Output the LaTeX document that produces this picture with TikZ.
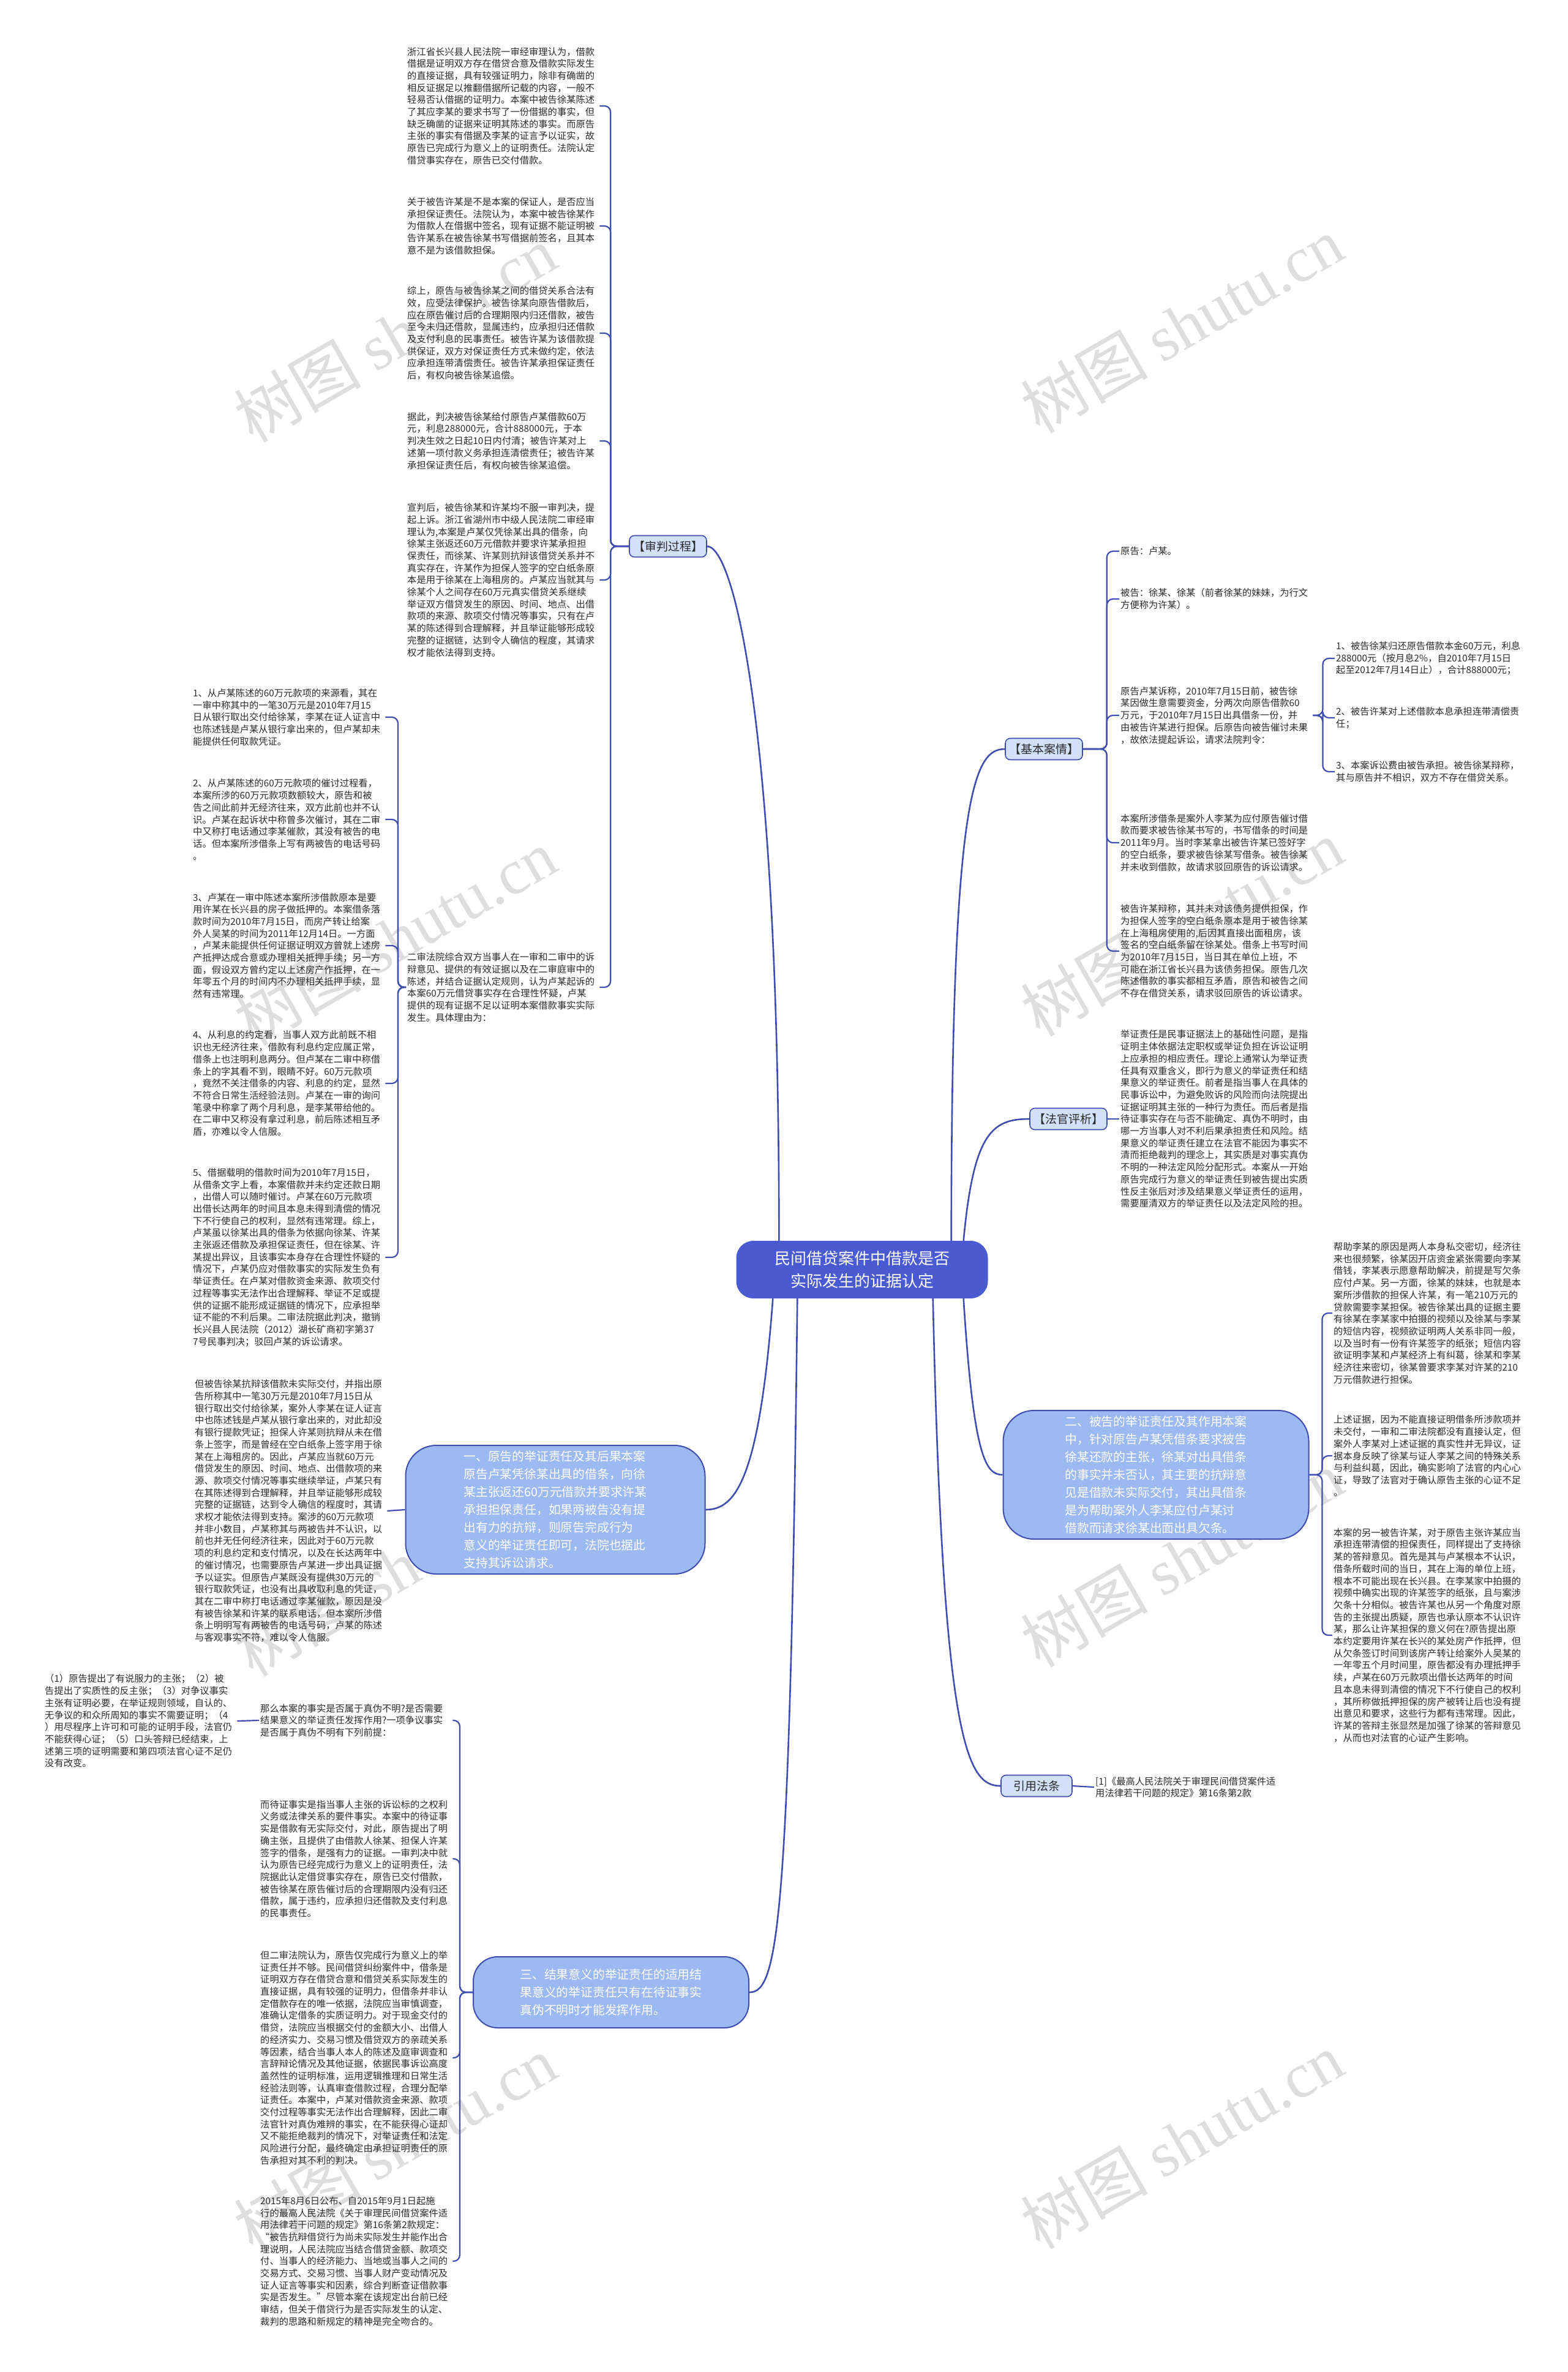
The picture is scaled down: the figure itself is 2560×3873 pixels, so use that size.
\documentclass[tikz,border=0pt]{standalone}
\usepackage{fontspec}
\setmainfont{Noto Sans CJK SC}
\newfontfamily\wmlatin{Liberation Serif}
\definecolor{lineblue}{HTML}{3F4CB0}
\definecolor{rootblue}{HTML}{4A5AD0}
\definecolor{bubfill}{HTML}{9DB9F2}
\definecolor{brfill}{HTML}{D3E0FA}
\definecolor{textgray}{HTML}{2B2B2B}
\tikzset{
  txt/.style={anchor=west, align=left, text width=312pt, inner sep=2pt, font=\fontsize{15.3}{19.7}\selectfont, text=textgray},
  conn/.style={draw=lineblue, line width=2.2pt, rounded corners=10pt},
  mainconn/.style={draw=lineblue, line width=2.6pt},
  bub/.style={draw=lineblue, line width=2pt, fill=bubfill, rounded corners=50pt, align=left, text=white, font=\fontsize{19.8}{29}\selectfont},
  brn/.style={draw=lineblue, line width=1.6pt, fill=brfill, rounded corners=8pt, font=\fontsize{19}{22}\selectfont, text=textgray, minimum height=35pt, inner xsep=6pt},
  wm/.style={text=black!13, font=\fontsize{104}{104}\selectfont, rotate=30}
}
\begin{document}
\begin{tikzpicture}[x=1pt,y=-1pt]
\useasboundingbox (0,0) rectangle (2560,3873);
\fill[white] (0,0) rectangle (2560,3873);
% watermarks
\node[wm] (w1) at (645,545) {树图 {\wmlatin shutu.cn}};
\node[wm] (w2) at (1930,530) {树图 {\wmlatin shutu.cn}};
\node[wm] (w3) at (645,1530) {树图 {\wmlatin shutu.cn}};
\node[wm] (w4) at (1930,1515) {树图 {\wmlatin shutu.cn}};
\node[wm] (w5) at (645,2560) {树图 {\wmlatin shutu.cn}};
\node[wm] (w6) at (1930,2545) {树图 {\wmlatin shutu.cn}};
\node[wm] (w7) at (645,3500) {树图 {\wmlatin shutu.cn}};
\node[wm] (w8) at (1930,3495) {树图 {\wmlatin shutu.cn}};

% root
\node[fill=rootblue, rounded corners=28pt, minimum width=411pt, minimum height=94pt, align=center, text=white, font=\fontsize{26}{37}\selectfont] (root) at (1408,2073) {民间借贷案件中借款是否\\实际发生的证据认定};

% branches
\node[brn] (jp) at (1091,892) {【审判过程】};
\node[brn] (jb) at (1705,1223) {【基本案情】};
\node[brn] (fg) at (1745,1827) {【法官评析】};
\node[brn, inner xsep=20pt] (yy) at (1693,2916) {引用法条};
\node[bub, minimum width=489pt, minimum height=210pt] (b1) at (907,2465) {一、原告的举证责任及其后果本案\\原告卢某凭徐某出具的借条，向徐\\某主张返还60万元借款并要求许某\\承担担保责任，如果两被告没有提\\出有力的抗辩，则原告完成行为\\意义的举证责任即可，法院也据此\\支持其诉讼请求。};
\node[bub, minimum width=499pt, minimum height=210pt] (b2) at (1888,2408) {二、被告的举证责任及其作用本案\\中，针对原告卢某凭借条要求被告\\徐某还款的主张，徐某对出具借条\\的事实并未否认，其主要的抗辩意\\见是借款未实际交付，其出具借条\\是为帮助案外人李某应付卢某讨\\借款而请求徐某出面出具欠条。};
\node[bub, minimum width=450pt, minimum height=116pt, rounded corners=40pt] (b3) at (998,3253) {三、结果意义的举证责任的适用结\\果意义的举证责任只有在待证事实\\真伪不明时才能发挥作用。};

% main connectors
\draw[mainconn] ([xshift=70pt]root.north west) .. controls (1273,1200) and (1200,892) .. (jp.east);
\draw[mainconn] ([xshift=-60pt]root.north east) .. controls (1554,1300) and (1590,1223) .. (jb.west);
\draw[mainconn] ([xshift=-40pt]root.north east) .. controls (1590,1850) and (1620,1827) .. (fg.west);
\draw[mainconn] ([xshift=-40pt]root.south east) .. controls (1590,2380) and (1610,2408) .. (b2.west);
\draw[mainconn] ([xshift=-90pt]root.south east) .. controls (1540,2850) and (1580,2916) .. (yy.west);
\draw[mainconn] ([xshift=60pt]root.south west) .. controls (1240,2420) and (1200,2465) .. (b1.east);
\draw[mainconn] ([xshift=100pt]root.south west) .. controls (1290,3150) and (1270,3253) .. (b3.east);

% ===== 审判过程 children
\node[txt] (B1) at (663,173) {浙江省长兴县人民法院一审经审理认为，借款\\借据是证明双方存在借贷合意及借款实际发生\\的直接证据，具有较强证明力，除非有确凿的\\相反证据足以推翻借据所记载的内容，一般不\\轻易否认借据的证明力。本案中被告徐某陈述\\了其应李某的要求书写了一份借据的事实，但\\缺乏确凿的证据来证明其陈述的事实。而原告\\主张的事实有借据及李某的证言予以证实，故\\原告已完成行为意义上的证明责任。法院认定\\借贷事实存在，原告已交付借款。};
\node[txt] (B2) at (663,369) {关于被告许某是不是本案的保证人，是否应当\\承担保证责任。法院认为，本案中被告徐某作\\为借款人在借据中签名，现有证据不能证明被\\告许某系在被告徐某书写借据前签名，且其本\\意不是为该借款担保。};
\node[txt] (B3) at (663,544) {综上，原告与被告徐某之间的借贷关系合法有\\效，应受法律保护。被告徐某向原告借款后，\\应在原告催讨后的合理期限内归还借款，被告\\至今未归还借款，显属违约，应承担归还借款\\及支付利息的民事责任。被告许某为该借款提\\供保证，双方对保证责任方式未做约定，依法\\应承担连带清偿责任。被告许某承担保证责任\\后，有权向被告徐某追偿。};
\node[txt] (B4) at (663,720) {据此，判决被告徐某给付原告卢某借款60万\\元，利息288000元，合计888000元，于本\\判决生效之日起10日内付清；被告许某对上\\述第一项付款义务承担连清偿责任；被告许某\\承担保证责任后，有权向被告徐某追偿。};
\node[txt] (B5) at (663,947) {宣判后，被告徐某和许某均不服一审判决，提\\起上诉。浙江省湖州市中级人民法院二审经审\\理认为,本案是卢某仅凭徐某出具的借条，向\\徐某主张返还60万元借款并要求许某承担担\\保责任，而徐某、许某则抗辩该借贷关系并不\\真实存在，许某作为担保人签字的空白纸条原\\本是用于徐某在上海租房的。卢某应当就其与\\徐某个人之间存在60万元真实借贷关系继续\\举证双方借贷发生的原因、时间、地点、出借\\款项的来源、款项交付情况等事实，只有在卢\\某的陈述得到合理解释，并且举证能够形成较\\完整的证据链，达到令人确信的程度，其请求\\权才能依法得到支持。};
\node[txt] (B6) at (663,1612) {二审法院综合双方当事人在一审和二审中的诉\\辩意见、提供的有效证据以及在二审庭审中的\\陈述，并结合证据认定规则，认为卢某起诉的\\本案60万元借贷事实存在合理性怀疑，卢某\\提供的现有证据不足以证明本案借款事实实际\\发生。具体理由为：};
\foreach \c in {B1,B2,B3,B4,B5,B6} \draw[conn] (jp.west) -- ++(-30,0) |- (\c.east);

\node[txt] (I1) at (313,1171) {1、从卢某陈述的60万元款项的来源看，其在\\一审中称其中的一笔30万元是2010年7月15\\日从银行取出交付给徐某，李某在证人证言中\\也陈述钱是卢某从银行拿出来的，但卢某却未\\能提供任何取款凭证。};
\node[txt] (I2) at (313,1338) {2、从卢某陈述的60万元款项的催讨过程看，\\本案所涉的60万元款项数额较大，原告和被\\告之间此前并无经济往来，双方此前也并不认\\识。卢某在起诉状中称曾多次催讨，其在二审\\中又称打电话通过李某催款，其没有被告的电\\话。但本案所涉借条上写有两被告的电话号码\\。};
\node[txt] (I3) at (313,1544) {3、卢某在一审中陈述本案所涉借款原本是要\\用许某在长兴县的房子做抵押的。本案借条落\\款时间为2010年7月15日，而房产转让给案\\外人吴某的时间为2011年12月14日。一方面\\，卢某未能提供任何证据证明双方曾就上述房\\产抵押达成合意或办理相关抵押手续；另一方\\面，假设双方曾约定以上述房产作抵押，在一\\年零五个月的时间内不办理相关抵押手续，显\\然有违常理。};
\node[txt] (I4) at (313,1769) {4、从利息的约定看，当事人双方此前既不相\\识也无经济往来，借款有利息约定应属正常，\\借条上也注明利息两分。但卢某在二审中称借\\条上的字其看不到，眼睛不好。60万元款项\\，竟然不关注借条的内容、利息的约定，显然\\不符合日常生活经验法则。卢某在一审的询问\\笔录中称拿了两个月利息，是李某带给他的。\\在二审中又称没有拿过利息，前后陈述相互矛\\盾，亦难以令人信服。};
\node[txt] (I5) at (313,2053) {5、借据载明的借款时间为2010年7月15日，\\从借条文字上看，本案借款并未约定还款日期\\，出借人可以随时催讨。卢某在60万元款项\\出借长达两年的时间且本息未得到清偿的情况\\下不行使自己的权利，显然有违常理。综上，\\卢某虽以徐某出具的借条为依据向徐某、许某\\主张返还借款及承担保证责任，但在徐某、许\\某提出异议，且该事实本身存在合理性怀疑的\\情况下，卢某仍应对借款事实的实际发生负有\\举证责任。在卢某对借款资金来源、款项交付\\过程等事实无法作出合理解释、举证不足或提\\供的证据不能形成证据链的情况下，应承担举\\证不能的不利后果。二审法院据此判决，撤销\\长兴县人民法院（2012）湖长矿商初字第37\\7号民事判决；驳回卢某的诉讼请求。};
\foreach \c in {I1,I2,I3,I4,I5} \draw[conn] (B6.west) -- ++(-13,0) |- (\c.east);

% ===== 一 child
\node[txt] (L1) at (316,2467) {但被告徐某抗辩该借款未实际交付，并指出原\\告所称其中一笔30万元是2010年7月15日从\\银行取出交付给徐某，案外人李某在证人证言\\中也陈述钱是卢某从银行拿出来的，对此却没\\有银行提款凭证；担保人许某则抗辩从未在借\\条上签字，而是曾经在空白纸条上签字用于徐\\某在上海租房的。因此，卢某应当就60万元\\借贷发生的原因、时间、地点、出借款项的来\\源、款项交付情况等事实继续举证，卢某只有\\在其陈述得到合理解释，并且举证能够形成较\\完整的证据链，达到令人确信的程度时，其请\\求权才能依法得到支持。案涉的60万元款项\\并非小数目，卢某称其与两被告并不认识，以\\前也并无任何经济往来，因此对于60万元款\\项的利息约定和支付情况，以及在长达两年中\\的催讨情况，也需要原告卢某进一步出具证据\\予以证实。但原告卢某既没有提供30万元的\\银行取款凭证，也没有出具收取利息的凭证，\\其在二审中称打电话通过李某催款，原因是没\\有被告徐某和许某的联系电话，但本案所涉借\\条上明明写有两被告的电话号码，卢某的陈述\\与客观事实不符，难以令人信服。};
\draw[conn] (b1.west) -- (L1.east);

% ===== 三 children
\node[txt] (C1) at (423,2809) {那么本案的事实是否属于真伪不明?是否需要\\结果意义的举证责任发挥作用?一项争议事实\\是否属于真伪不明有下列前提：};
\node[txt] (CC1) at (71,2810) {（1）原告提出了有说服力的主张；（2）被\\告提出了实质性的反主张；（3）对争议事实\\主张有证明必要，在举证规则领域，自认的、\\无争议的和众所周知的事实不需要证明；（4\\）用尽程序上许可和可能的证明手段，法官仍\\不能获得心证；（5）口头答辩已经结束，上\\述第三项的证明需要和第四项法官心证不足仍\\没有改变。};
\node[txt] (C2) at (423,3035) {而待证事实是指当事人主张的诉讼标的之权利\\义务或法律关系的要件事实。本案中的待证事\\实是借款有无实际交付，对此，原告提出了明\\确主张，且提供了由借款人徐某、担保人许某\\签字的借条，是强有力的证据。一审判决中就\\认为原告已经完成行为意义上的证明责任，法\\院据此认定借贷事实存在，原告已交付借款，\\被告徐某在原告催讨后的合理期限内没有归还\\借款，属于违约，应承担归还借款及支付利息\\的民事责任。};
\node[txt] (C3) at (423,3360) {但二审法院认为，原告仅完成行为意义上的举\\证责任并不够。民间借贷纠纷案件中，借条是\\证明双方存在借贷合意和借贷关系实际发生的\\直接证据，具有较强的证明力，但借条并非认\\定借款存在的唯一依据，法院应当审慎调查，\\准确认定借条的实质证明力。对于现金交付的\\借贷，法院应当根据交付的金额大小、出借人\\的经济实力、交易习惯及借贷双方的亲疏关系\\等因素，结合当事人本人的陈述及庭审调查和\\言辞辩论情况及其他证据，依据民事诉讼高度\\盖然性的证明标准，运用逻辑推理和日常生活\\经验法则等，认真审查借款过程，合理分配举\\证责任。本案中，卢某对借款资金来源、款项\\交付过程等事实无法作出合理解释，因此二审\\法官针对真伪难辨的事实，在不能获得心证却\\又不能拒绝裁判的情况下，对举证责任和法定\\风险进行分配，最终确定由承担证明责任的原\\告承担对其不利的判决。};
\node[txt] (C4) at (423,3692) {2015年8月6日公布、自2015年9月1日起施\\行的最高人民法院《关于审理民间借贷案件适\\用法律若干问题的规定》第16条第2款规定：\\“被告抗辩借贷行为尚未实际发生并能作出合\\理说明，人民法院应当结合借贷金额、款项交\\付、当事人的经济能力、当地或当事人之间的\\交易方式、交易习惯、当事人财产变动情况及\\证人证言等事实和因素，综合判断查证借款事\\实是否发生。”尽管本案在该规定出台前已经\\审结，但关于借贷行为是否实际发生的认定、\\裁判的思路和新规定的精神是完全吻合的。};
\foreach \c in {C1,C2,C3,C4} \draw[conn] (b3.west) -- ++(-21,0) |- (\c.east);
\draw[conn] (C1.west) -- (CC1.east);

% ===== 基本案情 children
\node[txt] (R1) at (1828,900) {原告：卢某。};
\node[txt] (R2) at (1828,978) {被告：徐某、徐某（前者徐某的妹妹，为行文\\方便称为许某）。};
\node[txt] (R3) at (1828,1168) {原告卢某诉称，2010年7月15日前，被告徐\\某因做生意需要资金，分两次向原告借款60\\万元，于2010年7月15日出具借条一份，并\\由被告许某进行担保。后原告向被告催讨未果\\，故依法提起诉讼，请求法院判令：};
\node[txt] (R4) at (1828,1376) {本案所涉借条是案外人李某为应付原告催讨借\\款而要求被告徐某书写的，书写借条的时间是\\2011年9月。当时李某拿出被告许某已签好字\\的空白纸条，要求被告徐某写借条。被告徐某\\并未收到借款，故请求驳回原告的诉讼请求。};
\node[txt] (R5) at (1828,1553) {被告许某辩称，其并未对该债务提供担保，作\\为担保人签字的空白纸条原本是用于被告徐某\\在上海租房使用的,后因其直接出面租房，该\\签名的空白纸条留在徐某处。借条上书写时间\\为2010年7月15日，当日其在单位上班，不\\可能在浙江省长兴县为该债务担保。原告几次\\陈述借款的事实都相互矛盾，原告和被告之间\\不存在借贷关系，请求驳回原告的诉讼请求。};
\foreach \c in {R1,R2,R3,R4,R5} \draw[conn] (jb.east) -- ++(39,0) |- (\c.west);

\node[txt, text width=330pt] (R3a) at (2180,1075) {1、被告徐某归还原告借款本金60万元，利息\\288000元（按月息2\%，自2010年7月15日\\起至2012年7月14日止），合计888000元；};
\node[txt, text width=330pt] (R3b) at (2180,1172) {2、被告许某对上述借款本息承担连带清偿责\\任；};
\node[txt, text width=330pt] (R3c) at (2180,1260) {3、本案诉讼费由被告承担。被告徐某辩称，\\其与原告并不相识，双方不存在借贷关系。};
\foreach \c in {R3a,R3b,R3c} \draw[conn] (R3.east) -- ++(16,0) |- (\c.west);

% ===== 法官评析 child
\node[txt] (R6) at (1828,1827) {举证责任是民事证据法上的基础性问题，是指\\证明主体依据法定职权或举证负担在诉讼证明\\上应承担的相应责任。理论上通常认为举证责\\任具有双重含义，即行为意义的举证责任和结\\果意义的举证责任。前者是指当事人在具体的\\民事诉讼中，为避免败诉的风险而向法院提出\\证据证明其主张的一种行为责任。而后者是指\\待证事实存在与否不能确定、真伪不明时，由\\哪一方当事人对不利后果承担责任和风险。结\\果意义的举证责任建立在法官不能因为事实不\\清而拒绝裁判的理念上，其实质是对事实真伪\\不明的一种法定风险分配形式。本案从一开始\\原告完成行为意义的举证责任到被告提出实质\\性反主张后对涉及结果意义举证责任的运用，\\需要厘清双方的举证责任以及法定风险的担。};
\draw[conn] (fg.east) -- (R6.west);

% ===== 二 children
\node[txt] (S1) at (2176,2144) {帮助李某的原因是两人本身私交密切，经济往\\来也很频繁，徐某因开店资金紧张需要向李某\\借钱，李某表示愿意帮助解决，前提是写欠条\\应付卢某。另一方面，徐某的妹妹，也就是本\\案所涉借款的担保人许某，有一笔210万元的\\贷款需要李某担保。被告徐某出具的证据主要\\有徐某在李某家中拍摄的视频以及徐某与李某\\的短信内容，视频欲证明两人关系非同一般，\\以及当时有一份有许某签字的纸张；短信内容\\欲证明李某和卢某经济上有纠葛，徐某和李某\\经济往来密切，徐某曾要求李某对许某的210\\万元借款进行担保。};
\node[txt] (S2) at (2176,2377) {上述证据，因为不能直接证明借条所涉款项并\\未交付，一审和二审法院都没有直接认定，但\\案外人李某对上述证据的真实性并无异议，证\\据本身反映了徐某与证人李某之间的特殊关系\\与利益纠葛，因此，确实影响了法官的内心心\\证，导致了法官对于确认原告主张的心证不足\\。};
\node[txt] (S3) at (2176,2670) {本案的另一被告许某，对于原告主张许某应当\\承担连带清偿的担保责任，同样提出了支持徐\\某的答辩意见。首先是其与卢某根本不认识，\\借条所载时间的当日，其在上海的单位上班，\\根本不可能出现在长兴县。在李某家中拍摄的\\视频中确实出现的许某签字的纸张，且与案涉\\欠条十分相似。被告许某也从另一个角度对原\\告的主张提出质疑，原告也承认原本不认识许\\某，那么让许某担保的意义何在?原告提出原\\本约定要用许某在长兴的某处房产作抵押，但\\从欠条签订时间到该房产转让给案外人吴某的\\一年零五个月时间里，原告都没有办理抵押手\\续，卢某在60万元款项出借长达两年的时间\\且本息未得到清偿的情况下不行使自己的权利\\，其所称做抵押担保的房产被转让后也没有提\\出意见和要求，这些行为都有违常理。因此，\\许某的答辩主张显然是加强了徐某的答辩意见\\，从而也对法官的心证产生影响。};
\foreach \c in {S1,S2,S3} \draw[conn] (b2.east) -- ++(21,0) |- (\c.west);

% ===== 引用法条 child
\node[txt, text width=340pt] (REF) at (1787,2918) {[1]《最高人民法院关于审理民间借贷案件适\\用法律若干问题的规定》第16条第2款};
\draw[conn] (yy.east) -- (REF.west);
\end{tikzpicture}
\end{document}
